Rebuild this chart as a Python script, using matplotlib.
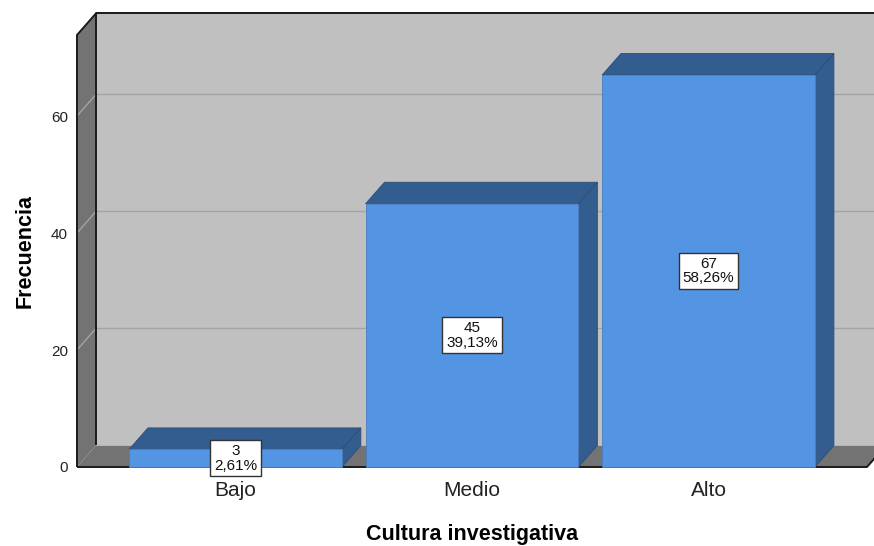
import matplotlib
matplotlib.use("Agg")
import matplotlib.pyplot as plt
from matplotlib.patches import Polygon
import numpy as np

plt.rcParams['font.family'] = ['Liberation Sans', 'DejaVu Sans']

categorias = ['Bajo', 'Medio', 'Alto']
frecuencias = [3, 45, 67]
yticks = [0, 20, 40, 60]

total = sum(frecuencias)
porcentajes = [100.0 * f / total for f in frecuencias]

fig = plt.figure(figsize=(8.74, 5.46), dpi=100)
ax = fig.add_axes([77 / 874, 1 - 467 / 546, 790 / 874, 432 / 546])

x0, x1 = -0.67, 2.67
ytop = 73.85
ax.set_xlim(x0, x1)
ax.set_ylim(0, ytop)

# profundidad del efecto 3D, en unidades de datos
dx, dy = 0.080, 3.68
ancho = 0.90

c_frente = '#5394e3'
c_lado = '#335c8f'
c_pared = '#c0c0c0'
c_suelo = '#737373'
c_grid = '#a4a4a4'


def poly(pts, fc, ec='none', lw=0.0, z=1):
    p = Polygon(pts, closed=True, facecolor=fc, edgecolor=ec, linewidth=lw,
                zorder=z, clip_on=False, joinstyle='miter')
    ax.add_patch(p)


# pared del fondo, pared lateral y suelo
poly([(x0 + dx, dy), (x1 + dx, dy), (x1 + dx, ytop + dy), (x0 + dx, ytop + dy)], c_pared, z=0)
poly([(x0, 0), (x0 + dx, dy), (x0 + dx, ytop + dy), (x0, ytop)], c_suelo, z=0.5)
poly([(x0, 0), (x1, 0), (x1 + dx, dy), (x0 + dx, dy)], c_suelo, z=0.5)

for t in yticks[1:]:
    ax.plot([x0 + dx, x1 + dx], [t + dy, t + dy], color=c_grid, lw=1.0, zorder=0.8, clip_on=False)
    ax.plot([x0, x0 + dx], [t, t + dy], color=c_grid, lw=1.0, zorder=0.8, clip_on=False)

# bordes negros del recinto
k = dict(color='#1a1a1a', lw=1.4, zorder=0.9, clip_on=False, solid_capstyle='butt')
ax.plot([x0 + dx, x0 + dx, x1 + dx], [dy, ytop + dy, ytop + dy], **k)
ax.plot([x0, x0, x0 + dx], [0, ytop, ytop + dy], **k)
ax.plot([x0, x1, x1 + dx], [0, 0, dy], **k)

# barras 3D
for i, v in enumerate(frecuencias):
    l, r = i - ancho / 2, i + ancho / 2
    poly([(l, v), (r, v), (r + dx, v + dy), (l + dx, v + dy)], c_lado, ec='#2b4d78', lw=0.6, z=2)
    poly([(r, 0), (r + dx, dy), (r + dx, v + dy), (r, v)], c_lado, ec='#2b4d78', lw=0.6, z=2)
    poly([(l, 0), (r, 0), (r, v), (l, v)], c_frente, ec='#4a7fc0', lw=0.6, z=3)
    ax.text(i, v / 2, '%d\n%s%%' % (v, ('%.2f' % porcentajes[i]).replace('.', ',')),
            ha='center', va='center', fontsize=11, linespacing=1.05, color='#111111', zorder=5,
            bbox=dict(boxstyle='square,pad=0.25', fc='white', ec='#333333', lw=1.0))

for s in ax.spines.values():
    s.set_visible(False)
ax.set_facecolor('none')

ax.set_yticks(yticks)
ax.set_yticklabels([str(t) for t in yticks], fontsize=11, color='#222222')
ax.set_xticks(range(len(categorias)))
ax.set_xticklabels(categorias, fontsize=15, color='#222222')
ax.tick_params(axis='y', length=0, pad=6.5)
ax.tick_params(axis='x', length=0, pad=10)

ax.set_ylabel('Frecuencia', fontsize=15.5, fontweight='bold')
ax.set_xlabel('Cultura investigativa', fontsize=15.5, fontweight='bold')
ax.yaxis.set_label_coords(-0.053, 0.5)
ax.xaxis.set_label_coords(0.5, -0.131)

fig.savefig('out.png', dpi=100)
